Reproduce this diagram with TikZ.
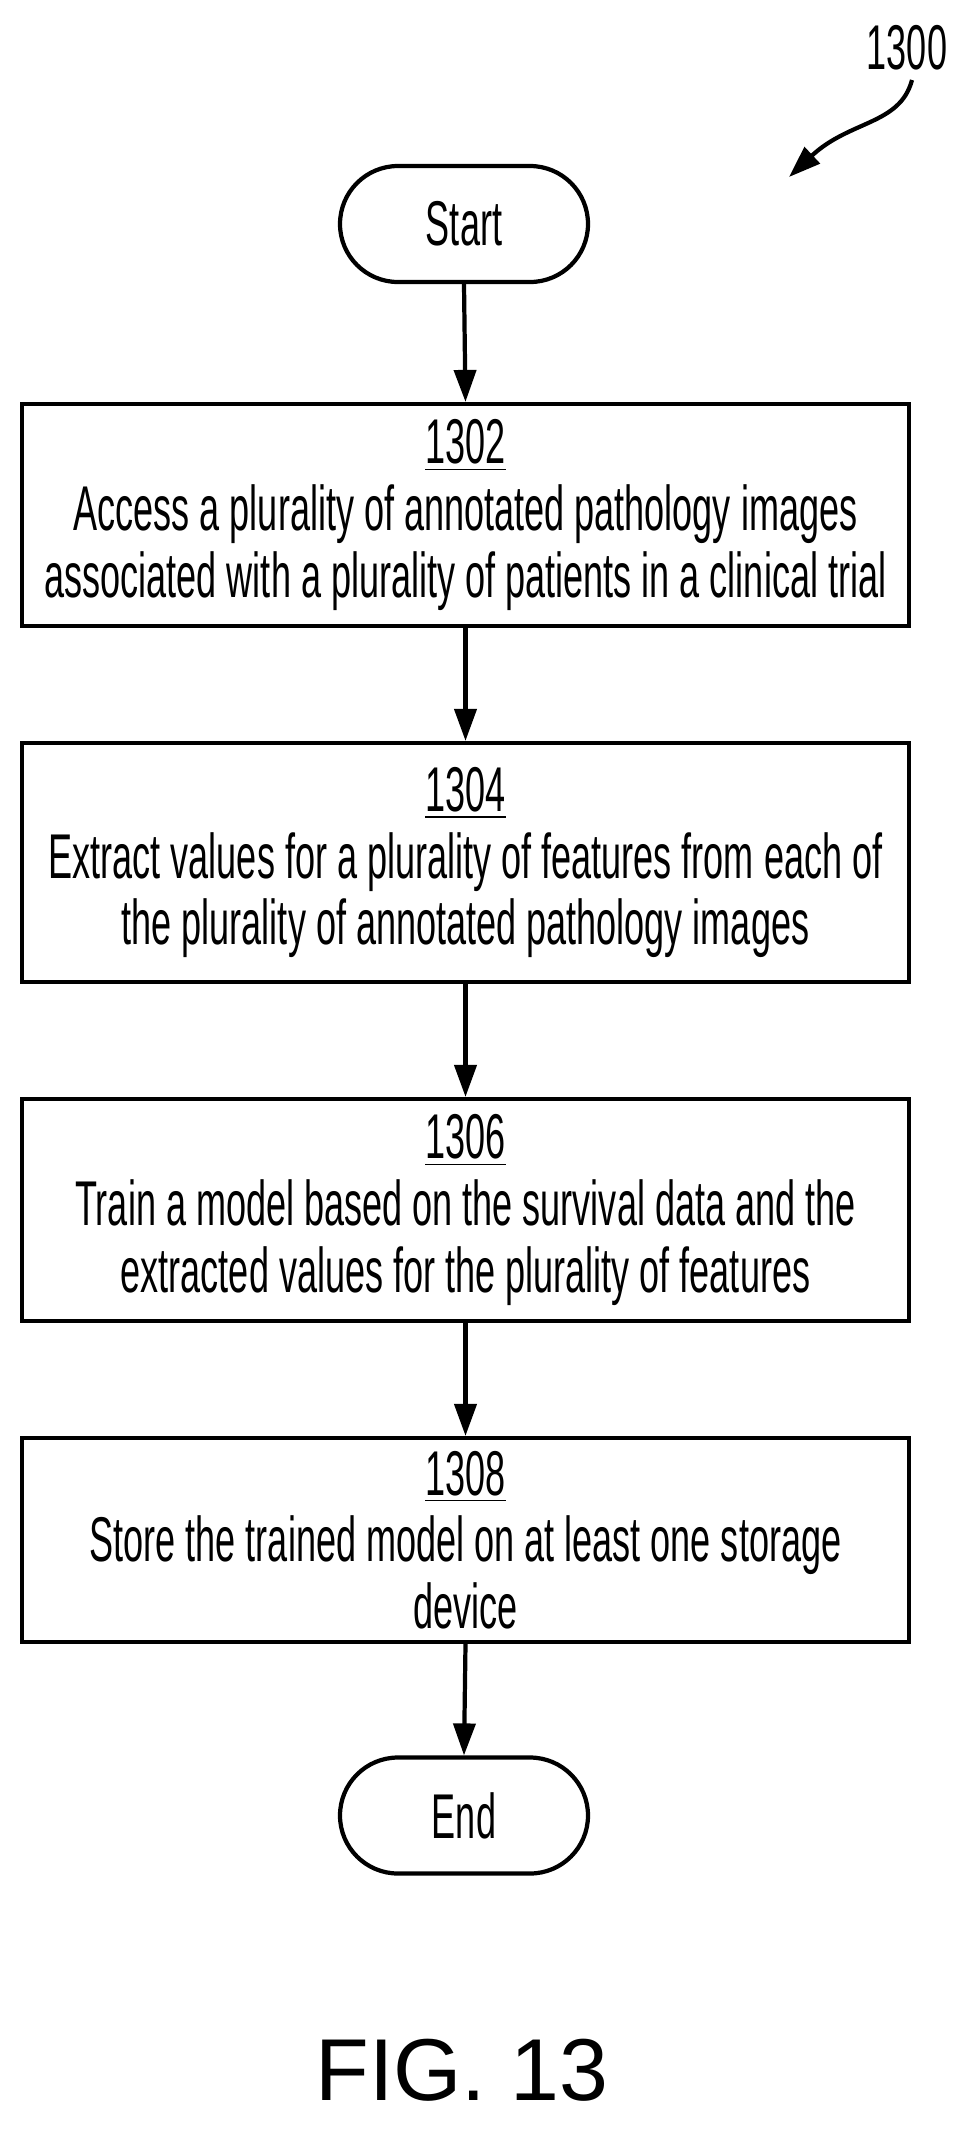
\documentclass[tikz,border=0pt]{standalone}
\usepackage{fontspec}
\setmainfont{Liberation Sans}
\newfontfamily\narrowfont[FakeStretch=0.57]{Liberation Sans}
\usetikzlibrary{shapes,arrows.meta}

\begin{document}
\begin{tikzpicture}[
stepbox/.style={rectangle, draw, line width=1.2pt, minimum width=88.7mm, align=center, font=\narrowfont\fontsize{18}{19}\selectfont},
termnode/.style={rectangle, draw, line width=1.2pt, rounded corners=5.8mm, minimum width=24.8mm, minimum height=11.6mm, font=\narrowfont\fontsize{18}{19}\selectfont},
flow/.style={-{Triangle[width=2.2mm,length=3.2mm]}, line width=1.2pt}
]
\useasboundingbox (0,0) rectangle (9.66,-21.29);
%Nodes
\node[termnode] at (4.64,-2.24) (START) {Start};
\node[stepbox, minimum height=22.2mm] at (4.655,-5.15) (S1302) {\underline{1302}\\Access a plurality of annotated pathology images\\associated with a plurality of patients in a clinical trial};
\node[stepbox, minimum height=23.9mm] at (4.655,-8.625) (S1304) {\underline{1304}\\Extract values for a plurality of features from each of\\the plurality of annotated pathology images};
\node[stepbox, minimum height=22.2mm] at (4.655,-12.1) (S1306) {\underline{1306}\\Train a model based on the survival data and the\\extracted values for the plurality of features};
\node[stepbox, minimum height=20.4mm] at (4.655,-15.4) (S1308) {\underline{1308}\\Store the trained model on at least one storage\\device};
\node[termnode] at (4.64,-18.155) (END) {End};
\node[font=\narrowfont\fontsize{18}{19}\selectfont] at (9.07,-0.48) (REF) {1300};
\coordinate (REF-tip) at (7.89,-1.77);
\node[font=\fontsize{25}{25}\selectfont] at (4.62,-20.7) (FIG) {FIG. 13};

%Lines
\draw[flow] (START.south) -- (S1302.north);
\draw[flow] (S1302.south) -- (S1304.north);
\draw[flow] (S1304.south) -- (S1306.north);
\draw[flow] (S1306.south) -- (S1308.north);
\draw[flow] (S1308.south) -- (END.north);
\draw[flow] (9.12,-0.8) .. controls (9.0,-1.25) and (8.5,-1.2) .. (REF-tip);

\end{tikzpicture}
\end{document}
